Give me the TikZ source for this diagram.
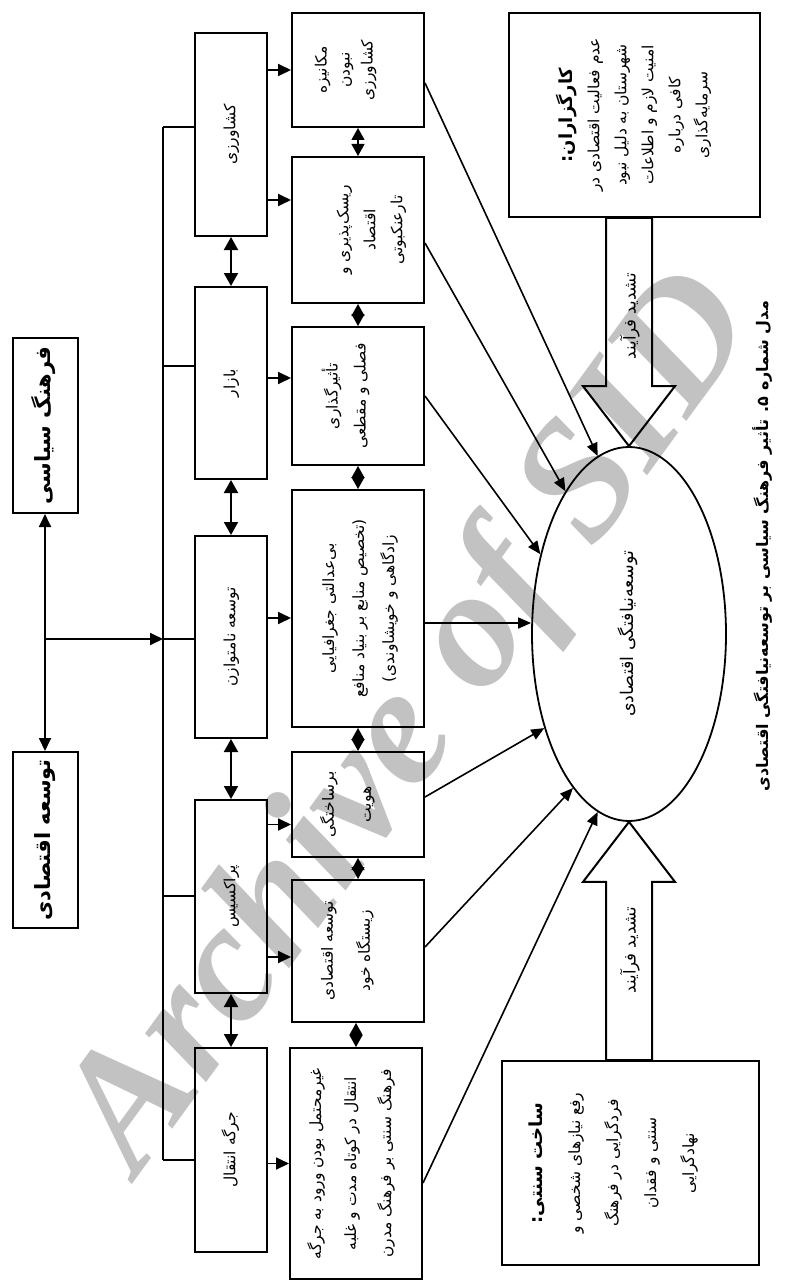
\documentclass[tikz,border=0pt]{standalone}
\usepackage{graphicx}
\usepackage{fontspec}
\usetikzlibrary{arrows.meta,calc,shapes.geometric}
\newfontfamily\fafont[Script=Arabic]{DejaVu Sans}
\newfontfamily\wmfont{Liberation Serif}
\TeXXeTstate=1
\newcommand{\fa}[1]{\beginR#1\endR}
\newcommand{\vtext}[1]{\rotatebox{90}{\begin{tabular}{@{}c@{}}#1\end{tabular}}}
\newcommand{\padr}[1]{\hspace*{#1}\null}
\begin{document}
\begin{tikzpicture}[x=1pt,y=-1pt,
  every node/.style={font={\fafont\fontsize{15.5}{22}\selectfont}},
  box/.style={draw, line width=2pt, inner sep=0pt, rectangle},
  col1/.style={box, minimum width=72pt},
  col2/.style={box, minimum width=132pt},
  ln/.style={line width=1.8pt},
  arr/.style={line width=1.8pt, -{Triangle[length=13pt,width=12pt]}},
  earr/.style={line width=1.6pt, -{Triangle[length=13pt,width=11pt]}},
  dbl/.style={line width=2pt, {Triangle[length=13pt,width=14pt]}-{Triangle[length=13pt,width=14pt]}},
  dia/.style={line width=1.2pt, {Triangle[length=12pt,width=13pt]}-{Triangle[length=12pt,width=13pt]}},
  hollow/.style={draw, line width=2pt, line join=miter},
  boldt/.style={font={\fafont\bfseries\fontsize{21}{26}\selectfont}},
]
\useasboundingbox (0,0) rectangle (811,1281);
% watermark
\node[rotate=54, text=black!24, font={\wmfont\bfseries\itshape\fontsize{170}{170}\selectfont}] (wm) at (415,725) {Archive of SID};

% left boxes
\node[box, boldt, minimum width=65pt, minimum height=175pt] (fs) at (45,425.5) {\vtext{\fa{فرهنگ سیاسی}}};
\node[box, boldt, minimum width=65pt, minimum height=176pt] (te) at (45,840) {\vtext{\fa{توسعه اقتصادی}}};

% column 1
\node[col1, minimum height=203pt] (c1a) at (231,134.5) {\vtext{\fa{کشاورزی}}};
\node[col1, minimum height=192pt] (c1b) at (231,383) {\vtext{\fa{بازار}}};
\node[col1, minimum height=202pt] (c1c) at (231,637) {\vtext{\fa{توسعه نامتوازن}}};
\node[col1, minimum height=193pt] (c1d) at (231,896.5) {\vtext{\fa{پراکسیس}}};
\node[col1, minimum height=204pt] (c1e) at (231,1150) {\vtext{\fa{جرگه انتقال}}};

% column 2
\node[col2, minimum height=114pt, font={\fafont\fontsize{15.5}{23}\selectfont}] (c2a) at (358,70) {\vtext{\fa{مکانیزه}\\\fa{نبودن}\\\fa{کشاورزی}}\padr{26pt}};
\node[col2, minimum height=146pt, font={\fafont\fontsize{15.5}{27}\selectfont}] (c2b) at (358,230) {\hspace*{24pt}\vtext{\fa{ریسک‌پذیری و}\\\fa{اقتصاد}\\\fa{تارعنکبوتی}}};
\node[col2, minimum height=138pt, font={\fafont\fontsize{15.5}{28}\selectfont}] (c2c) at (358,396) {\vtext{\fa{تأثیرگذاری}\\\fa{فصلی و مقطعی}}\padr{24pt}};
\node[col2, minimum height=237pt, font={\fafont\fontsize{15.5}{30}\selectfont}] (c2d) at (358,608.5) {\vtext{\fa{بی‌عدالتی جغرافیایی}\\\fa{(تخصیص منابع بر بنیاد منافع}\\\fa{زادگاهی و خویشاوندی)}}};
\node[col2, minimum height=105pt, font={\fafont\fontsize{15.5}{37}\selectfont}] (c2e) at (358,804.5) {\vtext{\fa{برساختگی}\\\fa{هویت}}\padr{26pt}};
\node[col2, minimum height=142pt, font={\fafont\fontsize{15.5}{37}\selectfont}] (c2f) at (358,951) {\vtext{\fa{توسعه اقتصادی}\\\fa{زیستگاه خود}}\padr{28pt}};
\node[col2, minimum height=231pt, font={\fafont\fontsize{15.5}{35}\selectfont}] (c2g) at (356,1163.5) {\vtext{\fa{غیرمحتمل بودن ورود به جرگه}\\\fa{انتقال در کوتاه مدت و غلبه}\\\fa{فرهنگ سنتی بر فرهنگ مدرن}}\padr{14pt}};

% right side
\node[box, minimum width=251pt, minimum height=204pt, font={\fafont\fontsize{15.5}{27}\selectfont}] (karg) at (634.5,115) {\vtext{{\fafont\bfseries\fontsize{18}{30}\selectfont\fa{کارگزاران:}}\\\fa{عدم فعالیت اقتصادی در}\\\fa{شهرستان به دلیل نبود}\\\fa{امنیت لازم و اطلاعات}\\\fa{کافی درباره}\\\fa{سرمایه‌گذاری}}};
\node[box, minimum width=257pt, minimum height=204pt, font={\fafont\fontsize{15.5}{38}\selectfont}] (sakht) at (630.5,1163) {\vtext{{\fafont\bfseries\fontsize{18}{38}\selectfont\fa{ساخت سنتی:}}\\\fa{رفع نیازهای شخصی و}\\\fa{فردگرایی در فرهنگ}\\\fa{سنتی و فقدان}\\\fa{نهادگرایی}}\padr{40pt}};
\node[draw, ellipse, line width=1.8pt, minimum width=194pt, minimum height=374pt, inner sep=0pt, font={\fafont\fontsize{17.5}{22}\selectfont}] (ell) at (629,634) {\vtext{\fa{توسعه‌نیافتگی اقتصادی}}};

% caption
\node[font={\fafont\bfseries\fontsize{16}{20}\selectfont}] (cap) at (762,546) {\rotatebox{90}{\fa{مدل شماره ۵. تأثیر فرهنگ سیاسی بر توسعه‌نیافتگی اقتصادی}}};

% left connectors
\coordinate (J) at (45,639);
\coordinate (B) at (163,639);
\draw[arr] (J) -- (J |- fs.south);
\draw[arr] (J) -- (J |- te.north);
\draw[arr] (J) -- (B);

% bus
\coordinate (s1) at (163,127);
\coordinate (s2) at (163,366);
\coordinate (s3) at (163,639);
\coordinate (s4) at (163,896);
\coordinate (s5) at (163,1160);
\draw[ln] (s1) -- (s5);
\draw[ln] (s1) -- (s1 -| c1a.west);
\draw[ln] (s2) -- (s2 -| c1b.west);
\draw[ln] (s3) -- (s3 -| c1c.west);
\draw[ln] (s4) -- (s4 -| c1d.west);
\draw[ln] (s5) -- (s5 -| c1e.west);

% column 1 double arrows
\draw[dbl] (c1a.south) -- (c1b.north);
\draw[dbl] (c1b.south) -- (c1c.north);
\draw[dbl] (c1c.south) -- (c1d.north);
\draw[dbl] (c1d.south) -- (c1e.north);

% column 2 diamonds
\draw[dia] (c2a.south) -- (c2b.north);
\draw[dia] (c2b.south) -- (c2c.north);
\draw[dia] (c2c.south) -- (c2d.north);
\draw[dia] (c2d.south) -- (c2e.north);
\draw[dia] (c2e.south) -- (c2f.north);
\draw[dia] (c2f.south -| c2g.north) -- (c2g.north);

% column 1 -> column 2
\draw[arr] (c2a.west -| c1a.east) -- (c2a.west);
\draw[arr] ([yshift=30pt]c2b.west -| c1a.east) -- ([yshift=30pt]c2b.west);
\draw[arr] ([yshift=18pt]c2c.west -| c1b.east) -- ([yshift=18pt]c2c.west);
\draw[arr] ([yshift=-9.5pt]c2d.west -| c1c.east) -- ([yshift=-9.5pt]c2d.west);
\draw[arr] ([yshift=-20pt]c2e.west -| c1d.east) -- ([yshift=-20pt]c2e.west);
\draw[arr] ([yshift=-6pt]c2f.west -| c1d.east) -- ([yshift=-6pt]c2f.west);
\draw[arr] (c2g.west -| c1e.east) -- (c2g.west);

% column 2 -> ellipse
\draw[earr] ([yshift=-13pt]c2a.east) -- (ell.100);
\draw[earr] ([yshift=-13pt]c2b.east) -- (ell.114);
\draw[earr] (c2c.east) -- (ell.138);
\draw[earr] ([yshift=-14.5pt]c2d.east) -- ([yshift=-14.5pt]c2d.east -| ell.west);
\draw[earr] ([yshift=7.5pt]c2e.east) -- (ell.228);
\draw[earr] ([yshift=4pt]c2f.east) -- (ell.250);
\draw[earr] ([yshift=-19.5pt]c2g.east) -- (ell.260);

% hollow arrows
\draw[hollow] (ell.north) -- ++(-46,-60) -- ++(23,0) -- ($(ell.north |- karg.south)+(-23,0)$) -- ($(ell.north |- karg.south)+(23,0)$) -- ($(ell.north)+(23,-60)$) -- ++(23,0) -- cycle;
\draw[hollow] (ell.south) -- ++(-46,60) -- ++(23,0) -- ($(ell.south |- sakht.north)+(-23,0)$) -- ($(ell.south |- sakht.north)+(23,0)$) -- ($(ell.south)+(23,60)$) -- ++(23,0) -- cycle;
\node[font={\fafont\fontsize{16.5}{20}\selectfont}] (t1) at (630,316) {\rotatebox{90}{\fa{تشدید فرآیند}}};
\node[font={\fafont\fontsize{16.5}{20}\selectfont}] (t2) at (630,950) {\rotatebox{90}{\fa{تشدید فرآیند}}};
\end{tikzpicture}
\end{document}
